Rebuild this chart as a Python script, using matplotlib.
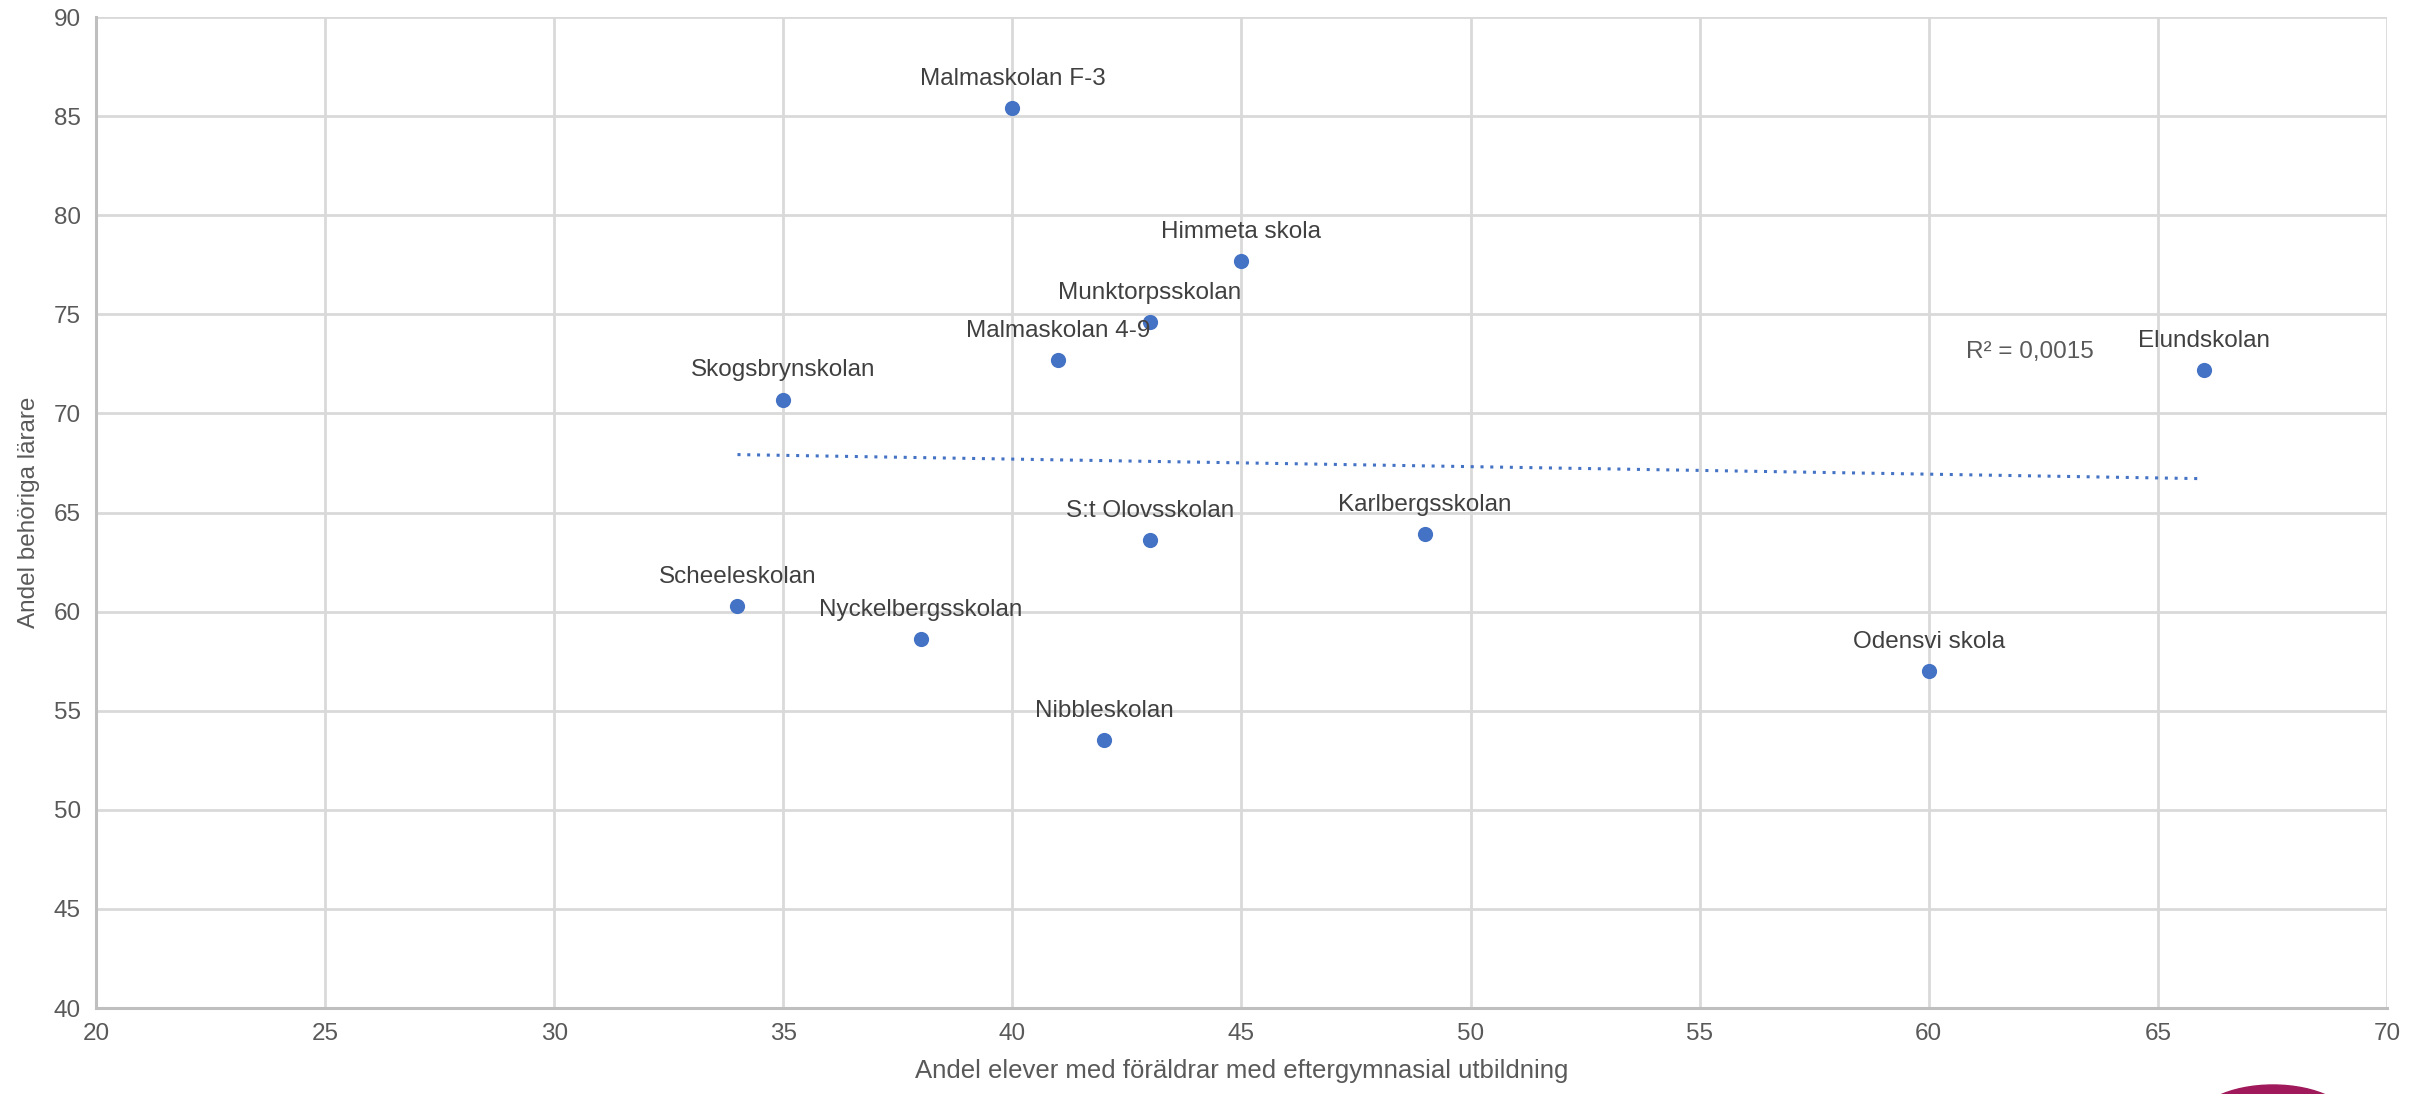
import numpy as np
import matplotlib
matplotlib.use("Agg")
import matplotlib.pyplot as plt
from matplotlib.patches import Ellipse

plt.rcParams['font.family'] = ['Liberation Sans', 'DejaVu Sans']

schools = ["Malmaskolan F-3", "Himmeta skola", "Munktorpsskolan", "Malmaskolan 4-9",
           "Skogsbrynskolan", "Elundskolan", "S:t Olovsskolan", "Karlbergsskolan",
           "Scheeleskolan", "Nyckelbergsskolan", "Nibbleskolan", "Odensvi skola"]
x_vals = [40, 45, 43, 41, 35, 66, 43, 49, 34, 38, 42, 60]
y_vals = [85.4, 77.7, 74.6, 72.7, 70.7, 72.2, 63.6, 63.9, 60.3, 58.6, 53.5, 57.0]
x_ticks = [20, 25, 30, 35, 40, 45, 50, 55, 60, 65, 70]
y_ticks = [40, 45, 50, 55, 60, 65, 70, 75, 80, 85, 90]
x_label = "Andel elever med föräldrar med eftergymnasial utbildning"
y_label = "Andel behöriga lärare"

TXT = "#595959"
GRID = "#d9d9d9"
BLUE = "#4472C4"

fig = plt.figure(figsize=(24.25, 10.94), dpi=100)
ax = fig.add_axes([96/2425, 1 - 1008/1094, (2387-96)/2425, (1008-17)/1094])

x = np.array(x_vals, float)
y = np.array(y_vals, float)

ax.scatter(x, y, s=120, color=BLUE, zorder=3, linewidths=0)

# linear trendline
slope, intercept = np.polyfit(x, y, 1)
xt = np.array([x.min(), x.max()])
ax.plot(xt, slope * xt + intercept, color=BLUE, linestyle=(0, (1, 2.2)), linewidth=2.2, zorder=2)
pred = slope * x + intercept
r2 = 1 - np.sum((y - pred) ** 2) / np.sum((y - y.mean()) ** 2)
ax.text(62.2, 72.55, f"R² = {r2:.4f}".replace(".", ","), fontsize=17.5, color=TXT,
        ha="center", va="bottom")

for name, xi, yi in zip(schools, x, y):
    ax.annotate(name, (xi, yi), xytext=(0, 13), textcoords="offset points",
                ha="center", va="bottom", fontsize=17.5, color="#404040")

ax.set_xlim(20, 70)
ax.set_ylim(40, 90)
ax.set_xticks(x_ticks)
ax.set_yticks(y_ticks)
ax.grid(True, color=GRID, linewidth=2)
ax.set_axisbelow(True)
for s in ["top", "right"]:
    ax.spines[s].set_visible(False)
for s in ["left", "bottom"]:
    ax.spines[s].set_color("#bfbfbf")
    ax.spines[s].set_linewidth(2.2)
ax.tick_params(length=0, labelsize=17.5, labelcolor=TXT, pad=11)
ax.set_xlabel(x_label, fontsize=18.5, color=TXT, labelpad=10)
ax.set_ylabel(y_label, fontsize=17.5, color=TXT, labelpad=10)

# logo fragment at bottom right
fig.patches.append(Ellipse((2273/2425, 1 - 1125/1094), 160/2425, 80/1094,
                           transform=fig.transFigure, color="#A0195A", zorder=5))

fig.savefig("out.png", dpi=100, facecolor="white")
